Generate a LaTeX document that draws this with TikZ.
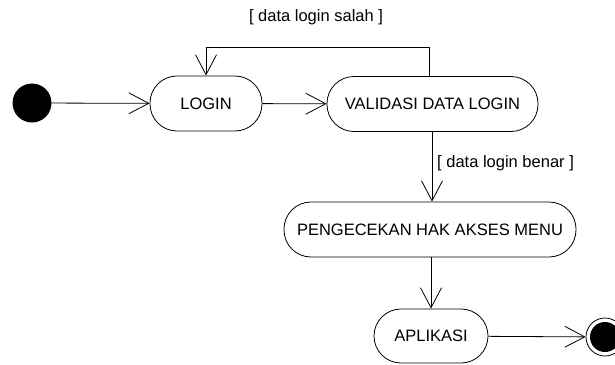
\documentclass[tikz,border=0pt]{standalone}
\usepackage{fontspec}
\setmainfont{Liberation Sans}
\usetikzlibrary{arrows.meta}
\begin{document}
\begin{tikzpicture}[x=1pt,y=-1pt,
  flow/.style={draw=black, line width=0.8pt,
    -{Straight Barb[length=20pt,width=21pt,line width=0.8pt]}},
  activity/.style={draw=black, line width=0.8pt, rectangle,
    rounded corners=27pt, minimum height=55pt, inner sep=0pt,
    font=\fontsize{16.5}{19}\selectfont},
  guard/.style={font=\fontsize{16.5}{19}\selectfont, inner sep=0pt}]
\useasboundingbox (0,0) rectangle (615,364);
\clip (0,0) rectangle (615,364);

% start and end states
\node[circle, fill=black, minimum size=39pt, inner sep=0pt] (start) at (32,103) {};
\node[circle, draw=black, line width=0.8pt, minimum size=38pt, inner sep=0pt] (stop) at (605,337) {};
\node[circle, fill=black, minimum size=30pt, inner sep=0pt] (stopdot) at (605,337) {};

% activities
\node[activity, minimum width=112pt] (login) at (206,103.5) {LOGIN};
\node[activity, minimum width=211pt] (valid) at (432.5,104) {VALIDASI DATA LOGIN};
\node[activity, minimum width=292pt] (cek) at (430,229.5) {PENGECEKAN HAK AKSES MENU};
\node[activity, minimum width=114pt, minimum height=54pt] (app) at (431,336) {APLIKASI};

% transitions
\coordinate (loopR) at (429,47);
\draw[flow] (start) -- (login);
\draw[flow] (login) -- (valid);
\draw[flow] (valid.south -| 432,0) -- (cek.north -| 432,0);
\draw[flow] (cek.south -| 431,0) -- (app.north -| 431,0);
\draw[flow] (app) -- (stop);
\draw[flow] (valid.north -| loopR) -- (loopR) -| (login.north);

% guard labels
\node[guard] (salah) at (316,17) {[ data login salah ]};
\node[guard, anchor=west] (benar) at (437,163) {[ data login benar ]};
\end{tikzpicture}
\end{document}
